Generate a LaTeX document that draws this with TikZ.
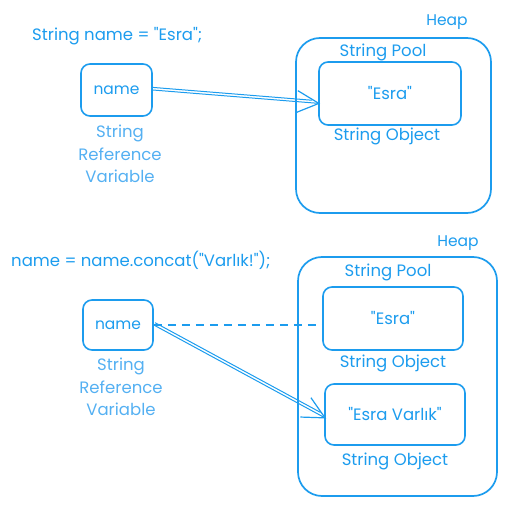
\documentclass[tikz,border=0pt]{standalone}
\usepackage{xcolor,tikz,fontspec}
\setmainfont{Poppins}[Ligatures=TeXOff]
\usetikzlibrary{arrows.meta,positioning,calc}
\definecolor{sky}{RGB}{28,156,238}
\definecolor{skylight}{RGB}{84,176,242}
\tikzset{
  box/.style={draw=sky,line width=1.6pt,rounded corners=9pt,inner sep=0pt},
  heap/.style={draw=sky,line width=1.7pt,rounded corners=24pt,inner sep=0pt},
  txt/.style={text=sky,font=\fontsize{16.5}{18}\selectfont,inner sep=0pt},
  small/.style={text=sky,font=\fontsize{15.5}{16}\selectfont,inner sep=0pt},
  lab/.style={text=skylight,font=\fontsize{16.5}{22.5}\selectfont,align=center,inner sep=0pt},
  ref/.style={-{Straight Barb[length=22pt,width=22pt,line width=1.2pt]},draw=sky,line width=1pt},
  refline/.style={draw=sky,line width=1pt,shorten >=8pt},
  old/.style={draw=sky,line width=1.6pt,dash pattern=on 8pt off 6pt}
}
\begin{document}
\begin{tikzpicture}[x=1pt,y=-1pt]
  \useasboundingbox (0,0) rectangle (506,505);

  % before concat
  \node[txt,anchor=west] (code1) at (32,36) {String name = "Esra";};
  \node[heap,minimum width=195pt,minimum height=175pt] (heap1) at (393.5,125.5) {};
  \node[small] (heapt1) at (447,22) {Heap};
  \node[txt] (pool1) at (383,52) {String Pool};
  \node[box,minimum width=142pt,minimum height=63pt] (esra1) at (390,93.5) {};
  \node[txt] at (esra1) {"Esra"};
  \node[txt] (obj1) at (387,136) {String Object};
  \node[box,minimum width=71pt,minimum height=52pt] (var1) at (116.5,90) {};
  \node[small] at (var1) {name};
  \node[lab] (vlab1) at (120,154) {String\\Reference\\Variable};
  \coordinate (tip1) at ($(esra1.west)+(2,10)$);
  \draw[ref] (var1.east) -- (tip1);
  \draw[refline,transform canvas={yshift=2.6pt}] (var1.east) -- (tip1);

  % after concat
  \node[txt,anchor=west] (code2) at (11,260) {name = name.concat("Varlık!");};
  \node[heap,minimum width=199pt,minimum height=239pt] (heap2) at (397.5,376.5) {};
  \node[small] (heapt2) at (458,243) {Heap};
  \node[txt] (pool2) at (388,272) {String Pool};
  \node[box,minimum width=140pt,minimum height=63pt] (esra2) at (393,318.5) {};
  \node[txt] at (esra2) {"Esra"};
  \node[txt] (obj2) at (393,363) {String Object};
  \node[box,minimum width=140pt,minimum height=61pt] (esravar) at (395,414.5) {};
  \node[txt] at (esravar) {"Esra Varlık"};
  \node[txt] (obj3) at (395,461) {String Object};
  \node[box,minimum width=70pt,minimum height=50pt] (var2) at (118,325) {};
  \node[small] at (var2) {name};
  \node[lab] (vlab2) at (121,387) {String\\Reference\\Variable};
  \draw[old] (var2.east) -- (var2.east -| esra2.west);
  \coordinate (tip2) at ($(esravar.west)+(2,4)$);
  \draw[ref] (var2.east) -- (tip2);
  \draw[refline,transform canvas={xshift=1.3pt,yshift=2.3pt}] (var2.east) -- (tip2);
\end{tikzpicture}
\end{document}
